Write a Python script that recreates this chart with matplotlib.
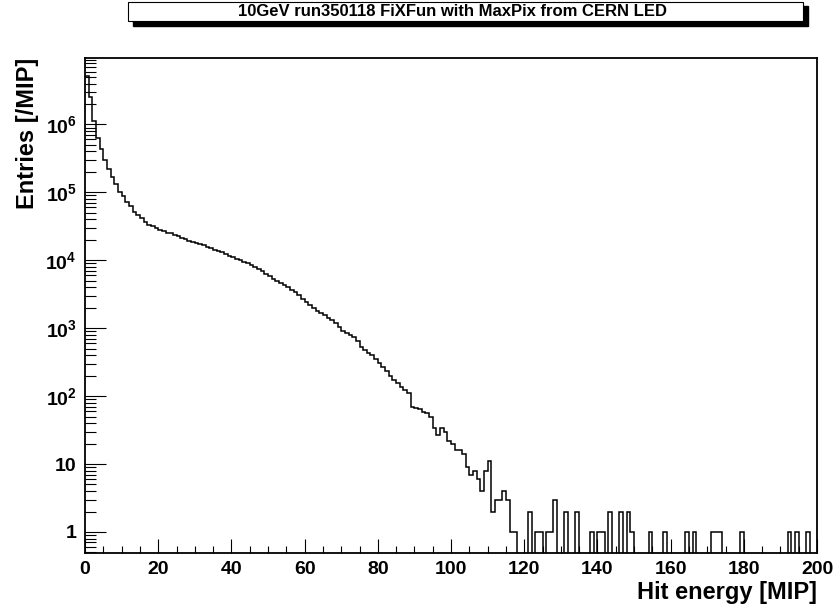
import numpy as np
import matplotlib
matplotlib.use('Agg')
import matplotlib.pyplot as plt
from matplotlib.patches import Rectangle
from matplotlib.ticker import FixedLocator, FixedFormatter, LogLocator, MultipleLocator, NullFormatter

plt.rcParams['font.family'] = ['Liberation Sans', 'DejaVu Sans']
plt.rcParams['font.weight'] = 'bold'
plt.rcParams['mathtext.fontset'] = 'custom'
plt.rcParams['mathtext.rm'] = 'Liberation Sans:bold'
plt.rcParams['mathtext.bf'] = 'Liberation Sans:bold'
plt.rcParams['mathtext.it'] = 'Liberation Sans:bold'

# histogramm: 200 bins von 0 bis 200 MIP
bin_edges = np.arange(0, 201, 1)

# Inhalt der Bins 0..117
main_counts = [
    5.1e6, 2.5e6, 1.14e6, 6.3e5, 4.3e5, 3.0e5, 2.2e5, 1.7e5, 1.33e5, 1.02e5,
    8.9e4, 7.3e4, 6.4e4, 5.2e4, 4.7e4, 4.2e4, 3.7e4, 3.3e4, 31500, 29700,
    28200, 26700, 25300, 24800, 23700, 22400, 21300, 20300, 19500, 18800,
    17900, 17100, 16500, 15800, 15100, 14400, 13800, 13100, 12300, 11700,
    11100, 10500, 9970, 9440, 8980, 8500, 8020, 7420, 6840, 6310,
    5770, 5350, 4970, 4630, 4300, 4000, 3660, 3360, 3070, 2700,
    2420, 2190, 1980, 1820, 1680, 1550, 1420, 1310, 1180, 1040,
    919, 853, 802, 752, 650, 531, 471, 433, 397, 353,
    308, 265, 231, 198, 171, 154, 137, 121, 110, 69,
    66, 64, 59, 56, 50, 34, 27, 34, 30, 22,
    20, 16, 16, 14, 9, 7, 8, 6, 4, 8,
    11, 2, 3, 3, 4, 3, 1, 1,
]

# einzelne Eintraege im Auslauf
tail_bins = [121, 123, 124, 126, 127, 128, 131, 134, 138, 140, 141, 143, 146,
             148, 149, 154, 158, 164, 166, 171, 172, 173, 179, 192, 194, 197]
tail_counts = [2, 1, 1, 1, 1, 3, 2, 2, 1, 1, 1, 2, 2,
               2, 1, 1, 1, 1, 1, 1, 1, 1, 1, 1, 1, 1]

counts = np.zeros(200)
counts[:len(main_counts)] = main_counts
counts[tail_bins] = tail_counts

title = '10GeV run350118 FiXFun with MaxPix from CERN LED'
xlabel = 'Hit energy [MIP]'
ylabel = 'Entries [/MIP]'
ytick_vals = [1, 10, 1e2, 1e3, 1e4, 1e5, 1e6]
ytick_labels = ['1', '10', r'$10^{2}$', r'$10^{3}$', r'$10^{4}$', r'$10^{5}$', r'$10^{6}$']

W, H = 839, 606
fig = plt.figure(figsize=(W / 100, H / 100), dpi=100)
ax = fig.add_axes([85 / W, 1 - 553 / H, 732 / W, 495 / H])

# leere Bins unter die Achse legen, wie bei ROOT
plot_counts = np.where(counts > 0, counts, 1e-2)
ax.stairs(plot_counts, bin_edges, color='black', lw=1.1, baseline=None)

ax.set_yscale('log')
ax.set_xlim(0, 200)
ax.set_ylim(0.49, 9.5e6)

ax.xaxis.set_major_locator(MultipleLocator(20))
ax.xaxis.set_minor_locator(MultipleLocator(5))
ax.yaxis.set_major_locator(FixedLocator(ytick_vals))
ax.yaxis.set_major_formatter(FixedFormatter(ytick_labels))
ax.yaxis.set_minor_locator(LogLocator(base=10, subs=np.arange(2, 10)))
ax.yaxis.set_minor_formatter(NullFormatter())

ax.tick_params(axis='both', which='both', direction='in', top=False, right=False,
               width=0.8, labelsize=14)
ax.tick_params(axis='x', which='major', length=10, pad=6)
ax.tick_params(axis='x', which='minor', length=5)
ax.tick_params(axis='y', which='major', length=15, pad=6)
ax.tick_params(axis='y', which='minor', length=8)
for s in ax.spines.values():
    s.set_linewidth(1.3)

fig.text(28 / W, 1 - 58 / H, ylabel, rotation=90, ha='center', va='top', fontsize=17)
fig.text(817 / W, 1 - 581 / H, xlabel, ha='right', va='top', fontsize=17)

# Titelbox mit Schatten
fig.patches.append(Rectangle((133 / W, 1 - 26 / H), 675 / W, 20 / H,
                             transform=fig.transFigure, facecolor='black',
                             edgecolor='black', zorder=1))
fig.patches.append(Rectangle((128 / W, 1 - 21 / H), 675 / W, 19 / H,
                             transform=fig.transFigure, facecolor='white',
                             edgecolor='black', lw=0.8, zorder=2))
fig.text(453 / W, 1 - 11.5 / H, title, ha='center', va='center', fontsize=12, zorder=3)

fig.savefig('out.png', dpi=100)
